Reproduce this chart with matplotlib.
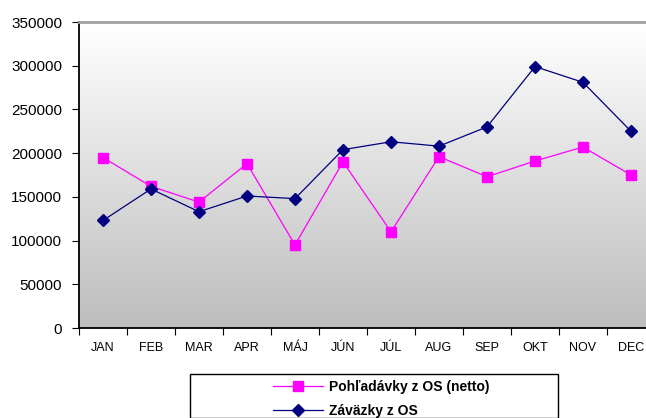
import numpy as np
import matplotlib
matplotlib.use('Agg')
import matplotlib.pyplot as plt
from matplotlib.patches import Rectangle

# data
months = ['JAN', 'FEB', 'MAR', 'APR', 'MÁJ', 'JÚN', 'JÚL', 'AUG', 'SEP', 'OKT', 'NOV', 'DEC']
pohladavky = [195000, 162000, 144000, 188000, 95000, 190000, 110000, 196000, 173000, 191000, 207000, 175000]
zavazky = [123000, 159000, 133000, 151000, 148000, 204000, 213000, 208000, 230000, 299000, 281000, 225000]
yticks = [0, 50000, 100000, 150000, 200000, 250000, 300000, 350000]

plt.rcParams['font.family'] = ['Liberation Sans', 'DejaVu Sans']

W, H = 646, 418
fig = plt.figure(figsize=(W / 100, H / 100), dpi=100)
ax = fig.add_axes([79 / W, (H - 328) / H, (655 - 79) / W, (328 - 22) / H])

# gradient background
grad = np.linspace(0, 1, 256).reshape(-1, 1)
cmap = matplotlib.colors.LinearSegmentedColormap.from_list('g', ['#bdbdbd', '#ffffff'])
ax.imshow(grad, extent=[0, 1, 0, 1], transform=ax.transAxes, aspect='auto',
          cmap=cmap, origin='lower', zorder=0)

x = np.arange(len(months))
ax.plot(x, pohladavky, color='#ff00ff', lw=0.9, marker='s', ms=7,
        mec='#ff00ff', mfc='#ff00ff', label='Pohľadávky z OS (netto)', zorder=3)
ax.plot(x, zavazky, color='#000080', lw=0.9, marker='D', ms=6.3,
        mec='#000080', mfc='#000080', label='Záväzky z OS', zorder=4)

ax.set_xlim(-0.5, len(months) - 0.5)
ax.set_ylim(0, 350000)
ax.set_yticks(yticks)
ax.set_yticklabels([str(v) for v in yticks], fontsize=11)
ax.set_xticks(x)
ax.set_xticklabels(months, fontsize=9)
ax.set_xticks(np.arange(-0.5, len(months), 1), minor=True)
ax.tick_params(axis='x', which='major', length=0, pad=10)
ax.tick_params(axis='x', which='minor', length=5, width=0.8, color='black')
ax.tick_params(axis='y', length=5, width=0.8, pad=7)

for s in ['left', 'bottom']:
    ax.spines[s].set_color('black')
    ax.spines[s].set_linewidth(1.3)
ax.spines['top'].set_color('#a0a0a0')
ax.spines['top'].set_linewidth(2)
ax.spines['right'].set_visible(False)

# legend box
fig.patches.append(Rectangle((190 / W, 0), (558 - 190) / W, (H - 374) / H,
                             transform=fig.transFigure, fill=False,
                             edgecolor='black', lw=1))
fig.legend(loc='upper left', bbox_to_anchor=(262 / W, (H - 369) / H),
           frameon=False, prop={'weight': 'bold', 'size': 10},
           handlelength=3.6, handletextpad=0.4, labelspacing=0.7,
           borderpad=0.3)

fig.savefig('out.png', dpi=100)
